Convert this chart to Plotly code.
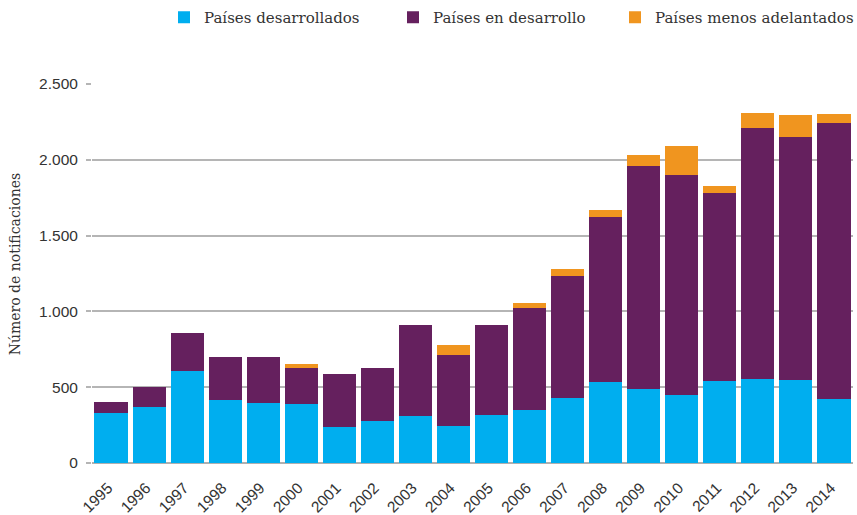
import plotly.graph_objects as go

years = [str(y) for y in range(1995, 2015)]
desarrollados = [328, 367, 606, 414, 394, 387, 235, 275, 308, 242, 315, 348, 427, 533, 487, 447, 540, 553, 546, 420]
en_desarrollo = [72, 133, 252, 285, 305, 239, 351, 351, 603, 470, 596, 675, 808, 1093, 1470, 1450, 1238, 1655, 1603, 1822]
menos_adelantados = [0, 0, 0, 0, 0, 26, 0, 0, 0, 66, 0, 33, 46, 46, 73, 192, 46, 100, 146, 59]
y_ticks = [0, 500, 1000, 1500, 2000, 2500]

series = [
    ("Países desarrollados", desarrollados, "#00AEEF", "legend"),
    ("Países en desarrollo", en_desarrollo, "#65205E", "legend2"),
    ("Países menos adelantados", menos_adelantados, "#F0951F", "legend3"),
]

fig = go.Figure()
for name, vals, col, lg in series:
    fig.add_trace(go.Bar(x=years, y=vals, name=name, legend=lg, showlegend=True,
                         marker=dict(color=col, line=dict(width=0))))

W, H = 857, 515
L, R, T, B = 92, 4, 84, 52
TXT = "#333333"
SERIF = "DejaVu Serif"


def legend_at(px):
    return dict(orientation="h", xref="container", yref="container",
                x=px / W, y=1 - 17.5 / H, xanchor="left", yanchor="middle",
                font=dict(family=SERIF, size=15, color=TXT),
                bgcolor="rgba(0,0,0,0)", visible=True)


fig.update_layout(
    width=W, height=H,
    showlegend=True,
    barmode="stack", bargap=0.13,
    separators=",.",
    plot_bgcolor="white", paper_bgcolor="white",
    margin=dict(l=L, r=R, t=T, b=B, autoexpand=False),
    font=dict(family="Liberation Sans", size=15, color=TXT),
    legend=legend_at(164),
    legend2=legend_at(393),
    legend3=legend_at(615),
    xaxis=dict(type="category", tickangle=-45, showgrid=False, showline=False,
               ticks="", ticklabelstandoff=12, ticklabelshift=-3,
               tickfont=dict(family="Liberation Sans", size=15.5, color=TXT)),
    yaxis=dict(range=[0, 2500], tickvals=y_ticks, tickformat=",d",
               showgrid=True, gridcolor="#b5b5b5", gridwidth=2,
               zeroline=True, zerolinecolor="#b0b0b0", zerolinewidth=2,
               ticks="outside", ticklen=5, tickwidth=2, tickcolor="#b5b5b5",
               ticklabelstandoff=5,
               tickfont=dict(family="Liberation Sans", size=15.5, color=TXT)),
    annotations=[dict(text="Número de notificaciones", textangle=-90,
                      xref="paper", yref="paper", x=(14.5 - L) / (W - L - R), y=0.523,
                      xanchor="center", yanchor="middle", showarrow=False,
                      font=dict(family=SERIF, size=14, color=TXT))],
)

fig.write_html("out.html", config={"displayModeBar": False},
               post_script="document.body.style.margin='0';document.body.style.padding='0';")
